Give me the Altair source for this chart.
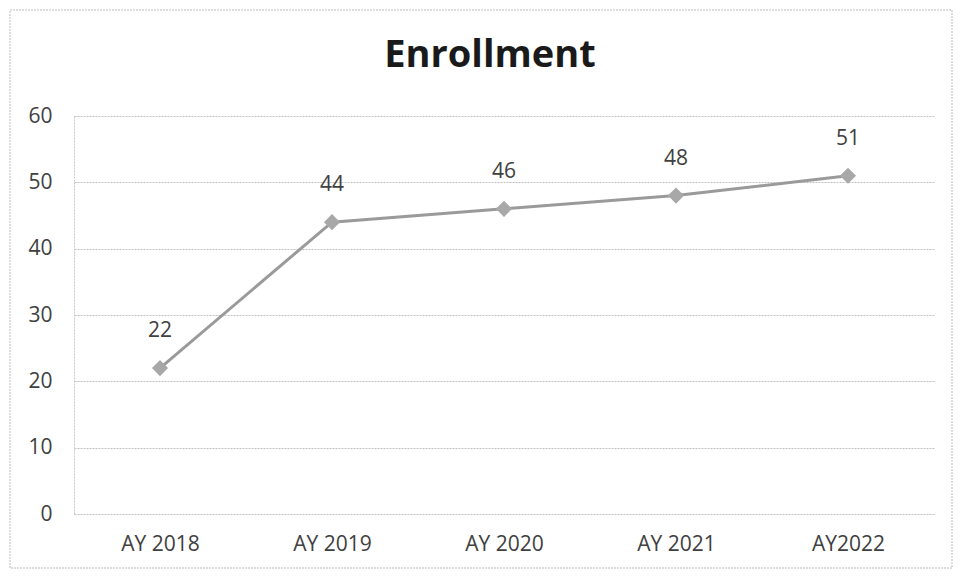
import altair as alt
import pandas as pd

years = ["AY 2018", "AY 2019", "AY 2020", "AY 2021", "AY2022"]
enrollment = [22, 44, 46, 48, 51]
chart_title = "Enrollment"

df = pd.DataFrame({"year": years, "enrollment": enrollment})

FONT = "Open Sans"

x = alt.X("year:N", sort=years, title=None,
          scale=alt.Scale(paddingInner=0, paddingOuter=0.5),
          axis=alt.Axis(labelAngle=0, labelFontSize=21, labelColor="#404040",
                        labelFont=FONT, ticks=False, domain=False,
                        labelPadding=19, grid=False))
y = alt.Y("enrollment:Q", title=None,
          scale=alt.Scale(domain=[0, 60], nice=False),
          axis=alt.Axis(values=[0, 10, 20, 30, 40, 50, 60], labelFontSize=21,
                        labelColor="#404040", labelFont=FONT, ticks=False,
                        domain=True, domainColor="#c8c8c8", domainDash=[2, 1],
                        gridColor="#c0c0c0", gridDash=[2, 1], labelPadding=22))

base = alt.Chart(df)

line = base.mark_line(color="#9a9a9a", strokeWidth=3).encode(x=x, y=y)
points = base.mark_point(shape="diamond", filled=True, color="#a8a8a8",
                         size=260, opacity=1).encode(x=x, y=y)
labels = base.mark_text(dy=-37, fontSize=21, color="#404040", font=FONT).encode(
    x=x, y=y, text="enrollment:Q")

title_df = pd.DataFrame({"t": [chart_title]})
title = alt.Chart(title_df).mark_text(
    fontSize=38, font=FONT, fontWeight="bold", color="#1a1a1a",
    align="center", baseline="middle").encode(
    text="t:N", x=alt.value(416), y=alt.value(-60))

frame = alt.Chart(pd.DataFrame({"a": [0]})).mark_rect(
    fill=None, stroke="#bbbbbb", strokeWidth=1, strokeDash=[2, 1]).encode(
    x=alt.value(-64), x2=alt.value(878), y=alt.value(-106), y2=alt.value(452))

chart = alt.layer(frame, line, points, labels, title).properties(
    width=860, height=398,
    autosize=alt.AutoSizeParams(type="none"),
    padding={"left": 66, "top": 108, "right": 20, "bottom": 56},
).configure(background="white").configure_view(stroke=None)

chart.save("out.html", embed_options={"renderer": "svg", "actions": False})
